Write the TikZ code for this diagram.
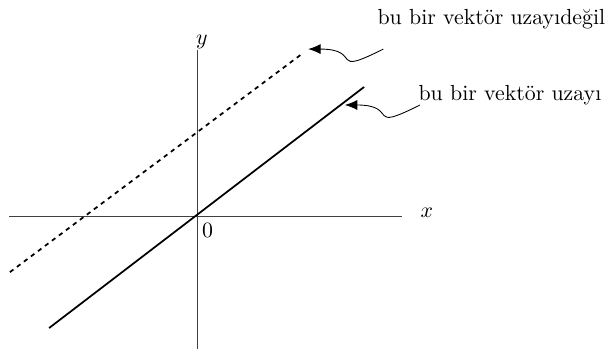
\documentclass[tikz,border=0pt]{standalone}
\usepackage{tikz}
\usetikzlibrary{arrows.meta, positioning}

\begin{document}
\begin{tikzpicture}[
  axis/.style={black!75},
  subspace/.style={thick},
  notsubspace/.style={thick, dash pattern=on 2pt off 2pt},
  pointer/.style={-{Latex[length=2mm, width=1.6mm]}},
  note/.style={anchor=base west, inner sep=0pt}
]
\useasboundingbox (-3.17,-2.19) rectangle (6.68,3.48);

% axes
\coordinate (xmin) at (-3.02,0);
\coordinate (xmax) at (3.3,0);
\coordinate (ymin) at (0,-2.13);
\coordinate (ymax) at (0,2.67);
\draw[axis] (xmin) -- (xmax);
\draw[axis] (ymin) -- (ymax);
\node (xlab) at (3.70,0.06) {$x$};
\node (ylab) at (0.08,2.80) {$y$};
\node (orig) at (0.17,-0.23) {$0$};

% the two lines
\coordinate (s1) at (-2.38,-1.80);
\coordinate (s2) at (2.69,2.08);
\coordinate (d1) at (-3.01,-0.90);
\coordinate (d2) at (1.70,2.62);
\draw[subspace] (s1) -- (s2);
\draw[notsubspace] (d1) -- (d2);

% labels with pointers
\node[note] (nosp) at (2.90,3.08) {bu bir vektör uzayıdeğil};
\node[note] (sp) at (3.56,1.87) {bu bir vektör uzayı};
\coordinate (nostart) at (3.00,2.69);
\coordinate (notip) at (1.79,2.69);
\coordinate (spstart) at (3.59,1.79);
\coordinate (sptip) at (2.38,1.79);
\draw[pointer] (nostart) .. controls +(-0.9,-0.45) and +(0.9,0) .. (notip);
\draw[pointer] (spstart) .. controls +(-0.9,-0.45) and +(0.9,0) .. (sptip);
\end{tikzpicture}
\end{document}
